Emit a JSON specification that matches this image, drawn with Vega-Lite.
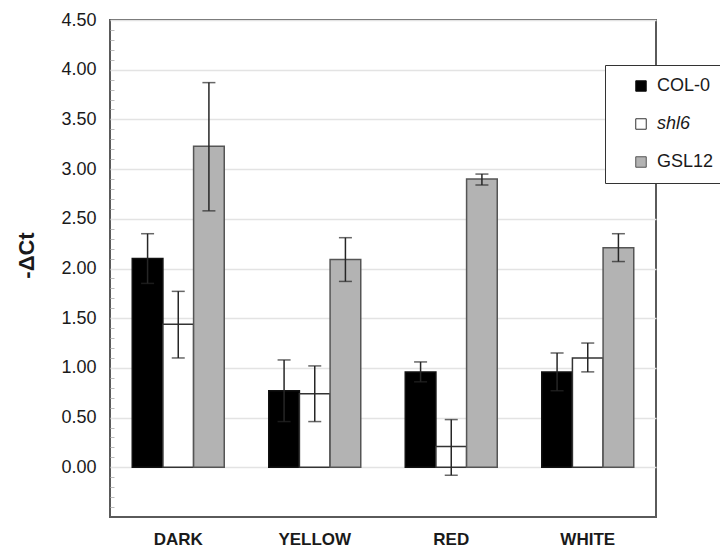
{
  "$schema": "https://vega.github.io/schema/vega-lite/v6.json",
  "autosize": "none",
  "width": 546,
  "height": 497,
  "padding": {"left": 110, "top": 20, "right": 64, "bottom": 34},
  "background": "#ffffff",
  "config": {
    "font": "Liberation Sans",
    "view": {"stroke": "#5a5a5a", "strokeWidth": 2},
    "axis": {"labelColor": "#1a1a1a", "titleColor": "#1a1a1a", "labelFont": "Liberation Sans", "titleFont": "Liberation Sans"},
    "legend": {"labelFont": "Liberation Sans"}
  },
  "data": {
    "values": [
      {"light": "DARK", "line": "COL-0", "value": 2.10, "lo": 1.85, "hi": 2.35},
      {"light": "DARK", "line": "shl6", "value": 1.44, "lo": 1.10, "hi": 1.77},
      {"light": "DARK", "line": "GSL12", "value": 3.23, "lo": 2.58, "hi": 3.87},
      {"light": "YELLOW", "line": "COL-0", "value": 0.77, "lo": 0.46, "hi": 1.08},
      {"light": "YELLOW", "line": "shl6", "value": 0.74, "lo": 0.46, "hi": 1.02},
      {"light": "YELLOW", "line": "GSL12", "value": 2.09, "lo": 1.87, "hi": 2.31},
      {"light": "RED", "line": "COL-0", "value": 0.96, "lo": 0.86, "hi": 1.06},
      {"light": "RED", "line": "shl6", "value": 0.21, "lo": -0.08, "hi": 0.48},
      {"light": "RED", "line": "GSL12", "value": 2.90, "lo": 2.84, "hi": 2.95},
      {"light": "WHITE", "line": "COL-0", "value": 0.96, "lo": 0.77, "hi": 1.15},
      {"light": "WHITE", "line": "shl6", "value": 1.10, "lo": 0.96, "hi": 1.25},
      {"light": "WHITE", "line": "GSL12", "value": 2.21, "lo": 2.07, "hi": 2.35}
    ]
  },
  "encoding": {
    "x": {
      "field": "light", "type": "nominal",
      "sort": ["DARK", "YELLOW", "RED", "WHITE"],
      "scale": {"paddingInner": 0.326, "paddingOuter": 0.163},
      "axis": {"title": null, "labelAngle": 0, "ticks": false, "domain": false, "labelFontSize": 17, "labelFontWeight": "bold", "labelPadding": 14}
    },
    "xOffset": {
      "field": "line", "type": "nominal",
      "sort": ["COL-0", "shl6", "GSL12"],
      "scale": {"paddingInner": 0, "paddingOuter": 0}
    }
  },
  "layer": [
    {
      "mark": {"type": "bar", "strokeWidth": 1.5},
      "encoding": {
        "y": {
          "field": "value", "type": "quantitative",
          "scale": {"domain": [-0.5, 4.5], "nice": false, "zero": false},
          "axis": {
            "title": "-\u0394Ct", "titleFontSize": 22, "titleFontWeight": "bold",
            "titleAngle": -90, "titleAlign": "center", "titleBaseline": "alphabetic",
            "titleX": -77, "titleY": 235,
            "values": [0, 0.5, 1, 1.5, 2, 2.5, 3, 3.5, 4, 4.5],
            "format": ".2f", "labelFontSize": 18, "labelPadding": 14,
            "ticks": false, "domain": false,
            "grid": true, "gridColor": "#e3e3e3", "gridWidth": 1.5
          }
        },
        "y2": {"datum": 0},
        "fill": {
          "field": "line", "type": "nominal",
          "sort": ["COL-0", "shl6", "GSL12"],
          "scale": {"domain": ["COL-0", "shl6", "GSL12"], "range": ["#000000", "#ffffff", "#b3b3b3"]},
          "legend": {
            "title": null, "orient": "none", "legendX": 495, "legendY": 45,
            "fillColor": "#ffffff", "strokeColor": "#333333",
            "padding": 12, "symbolOffset": 15, "symbolType": "square", "symbolSize": 110,
            "symbolStrokeColor": "#333333", "symbolStrokeWidth": 1,
            "labelFontSize": 18, "labelColor": "#1a1a1a", "labelOffset": 7, "rowPadding": 20,
            "labelFont": "Liberation Sans",
            "encode": {"labels": {"update": {"fontStyle": {"signal": "datum.label === 'shl6' ? 'italic' : 'normal'"}}}}
          }
        },
        "stroke": {
          "field": "line", "type": "nominal",
          "scale": {"domain": ["COL-0", "shl6", "GSL12"], "range": ["#111111", "#333333", "#555555"]},
          "legend": null
        }
      }
    },
    {
      "mark": {"type": "rule", "color": "#262626", "strokeWidth": 1.5},
      "encoding": {
        "y": {
          "field": "lo", "type": "quantitative",
          "axis": {
            "orient": "left", "title": null, "labels": false, "grid": false, "domain": false,
            "values": [-0.4, -0.3, -0.2, -0.1, 0.1, 0.2, 0.3, 0.4, 0.6, 0.7, 0.8, 0.9, 1.1, 1.2, 1.3, 1.4, 1.6, 1.7, 1.8, 1.9, 2.1, 2.2, 2.3, 2.4, 2.6, 2.7, 2.8, 2.9, 3.1, 3.2, 3.3, 3.4, 3.6, 3.7, 3.8, 3.9, 4.1, 4.2, 4.3, 4.4],
            "ticks": true, "tickSize": -4, "tickColor": "#bdbdbd", "tickWidth": 1
          }
        },
        "y2": {"field": "hi"}
      }
    },
    {
      "mark": {"type": "tick", "color": "#262626", "thickness": 1.5, "size": 13, "orient": "horizontal"},
      "encoding": {"y": {"field": "lo", "type": "quantitative", "axis": null}}
    },
    {
      "mark": {"type": "tick", "color": "#262626", "thickness": 1.5, "size": 13, "orient": "horizontal"},
      "encoding": {"y": {"field": "hi", "type": "quantitative", "axis": null}}
    }
  ],
  "resolve": {"axis": {"y": "independent"}}
}
